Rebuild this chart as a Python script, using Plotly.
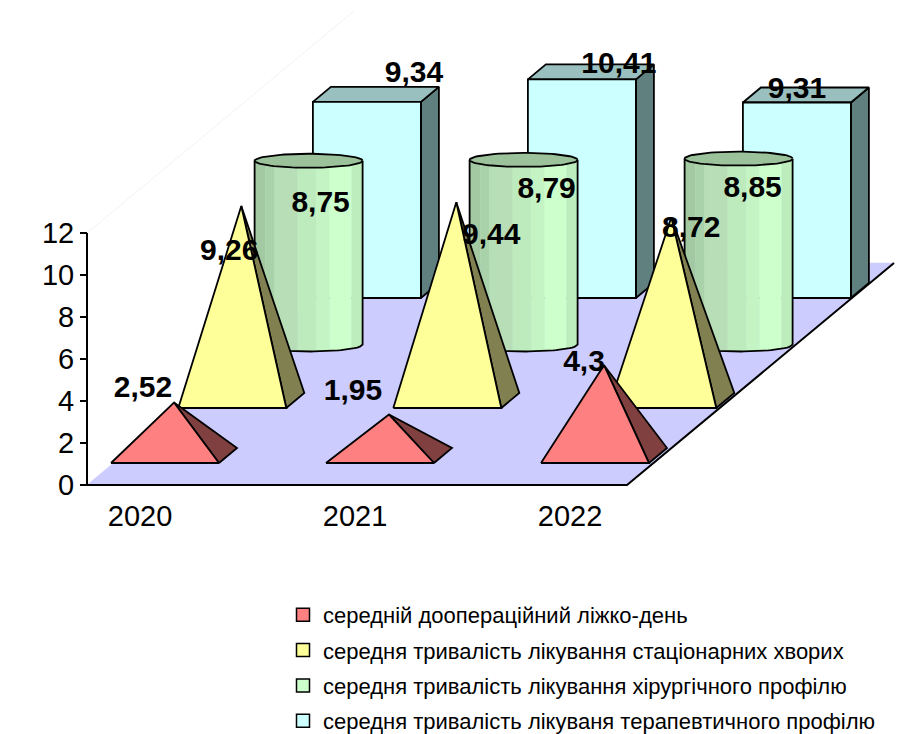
import plotly.graph_objects as go
import math

years = ["2020", "2021", "2022"]
series_names = [
    "середній доопераційний ліжко-день",
    "середня тривалість лікування стаціонарних хворих",
    "середня тривалість лікування хірургічного профілю",
    "середня тривалість лікуваня терапевтичного профілю",
]
preop_days = [2.52, 1.95, 4.3]
inpatient_days = [9.26, 9.44, 8.72]
surgical_days = [8.75, 8.79, 8.85]
therapeutic_days = [9.34, 10.41, 9.31]
y_ticks = [0, 2, 4, 6, 8, 10, 12]

# Oblique projection of the 3-D chart onto the flat plot
W_PX, H_PX = 911, 750
AX_LEFT, AX_ZERO = 87, 485
PX_X, PX_Y = 215.0, 21.0     # pixels per category / per value unit
X0, Y0 = (111 - AX_LEFT) / PX_X, (AX_ZERO - 463) / PX_Y
RX, RY = 67.3 / PX_X, 55 / PX_Y
BW = 108 / PX_X
DX, DY = 18 / PX_X, 15 / PX_Y
FLOOR_W, FLOOR_DX, FLOOR_DY = 540 / PX_X, 267 / PX_X, 222 / PX_Y

fig = go.Figure()


def poly(xs, ys, fill, line="black", lw=1.8):
    fig.add_trace(go.Scatter(
        x=list(xs) + [xs[0]], y=list(ys) + [ys[0]], mode="lines", fill="toself",
        fillcolor=fill, line=dict(color=line if line else fill, width=lw if line else 0.5),
        showlegend=False, hoverinfo="skip"))


def path(xs, ys, color="black", lw=2):
    fig.add_trace(go.Scatter(x=xs, y=ys, mode="lines", line=dict(color=color, width=lw),
                             showlegend=False, hoverinfo="skip"))


def base(c, r):
    return X0 + c + r * RX, Y0 + r * RY


def pyramid(c, r, v, front, side):
    x, y = base(c, r)
    ax, ay = x + (BW + DX) / 2, y + DY / 2 + v
    poly([x + BW, x + BW + DX, ax], [y, y + DY, ay], side)
    poly([x, x + BW, ax], [y, y, ay], front)
    return ax, ay


def box(c, r, v):
    x, y = base(c, r)
    poly([x + BW, x + BW + DX, x + BW + DX, x + BW], [y, y + DY, y + DY + v, y + v], "#608080")
    poly([x, x + BW, x + BW + DX, x + DX], [y + v, y + v, y + DY + v, y + DY + v], "#99BFBF")
    poly([x, x + BW, x + BW, x], [y, y, y + v, y + v], "#CCFFFF")
    return x + BW / 2, y + v


CYL_BANDS = [(0.00, 0.10, "#A3C9A3"), (0.10, 0.185, "#AAD2AA"), (0.185, 0.40, "#B7DEB7"),
             (0.40, 0.57, "#BEEBBE"), (0.57, 0.695, "#C4F3C4"), (0.695, 0.90, "#CCFFCC"),
             (0.90, 1.00, "#BDECBD")]
CYL_B = 7 / PX_Y
CYL_LIFT = 1 / PX_Y


def cylinder(c, r, v):
    x, y = base(c, r)
    cx, cy = x + (BW + DX) / 2 - BW / 2, y + DY / 2 + CYL_LIFT
    elx = lambda t: math.sqrt(max(0.0, 1 - (2 * t - 1) ** 2))
    n = 6
    for t0, t1, col in CYL_BANDS:
        ts = [t0 + (t1 - t0) * i / n for i in range(n + 1)]
        xs = [cx + t * BW for t in ts]
        ys = [cy - CYL_B * elx(t) for t in ts]
        poly(xs + [cx + t1 * BW, cx + t0 * BW], ys + [cy + v, cy + v], col, line=None)
    ts = [i / 40 for i in range(41)]
    xs = [cx] + [cx + t * BW for t in ts] + [cx + BW]
    ys = [cy + v] + [cy - CYL_B * elx(t) for t in ts] + [cy + v]
    path(xs, ys, lw=1.8)
    tops = [i * math.pi / 40 for i in range(81)]
    poly([cx + BW / 2 + BW / 2 * math.cos(a) for a in tops],
         [cy + v + CYL_B * math.sin(a) for a in tops], "#9BC29B")
    return cx + BW / 2, cy + v - CYL_LIFT


# Floor and faint walls
fx = [0, FLOOR_W, FLOOR_W + FLOOR_DX, FLOOR_DX]
fy = [0, 0, FLOOR_DY, FLOOR_DY]
path([0, FLOOR_DX], [12, 12 + FLOOR_DY], color="#F2F2F2", lw=1)
poly(fx, fy, "#CCCCFF", line=None)
path([0, FLOOR_W, FLOOR_W + FLOOR_DX], [0, 0, FLOOR_DY], lw=2)
path([0, 0], [0, 12], lw=2)

label_x, label_y, label_text = [], [], []
LABEL_SHIFT = 2


def label(pos, off, v):
    label_x.append(pos[0] + off[0] / PX_X)
    label_y.append(pos[1] - (off[1] + LABEL_SHIFT) / PX_Y)
    label_text.append(str(v).replace(".", ","))


OFF_BOX = [(47, -29), (37, -16), (0, -14)]
OFF_CYL = [(12, 41), (23, 28), (14, 28)]
OFF_YEL = [(-12, 44), (35, 32), (20, 10)]
OFF_RED = [(-31, -15), (-36, -24.5), (-20, -4)]

for c, v in enumerate(therapeutic_days):
    label(box(c, 3, v), OFF_BOX[c], v)
for c, v in enumerate(surgical_days):
    label(cylinder(c, 2, v), OFF_CYL[c], v)
for c, v in enumerate(inpatient_days):
    label(pyramid(c, 1, v, "#FFFF99", "#808050"), OFF_YEL[c], v)
for c, v in enumerate(preop_days):
    label(pyramid(c, 0, v, "#FF8080", "#804040"), OFF_RED[c], v)

fig.add_trace(go.Scatter(x=label_x, y=label_y, text=label_text, mode="text",
                         textposition="middle center", showlegend=False, hoverinfo="skip",
                         textfont=dict(family="Liberation Sans", size=30, color="black",
                                       weight="bold")))

for name, col in zip(series_names, ["#FF8080", "#FFFF99", "#CCFFCC", "#CCFFFF"]):
    fig.add_trace(go.Scatter(x=[None], y=[None], mode="markers", name=name, legendgroup=name,
                             marker=dict(symbol="square", size=13, color=col,
                                         line=dict(color="black", width=1.5))))

year_pos = [(140 - AX_LEFT + 215 * i) / PX_X for i in range(3)]
fig.update_layout(
    width=W_PX, height=H_PX, autosize=False,
    margin=dict(l=0, r=0, t=0, b=0), paper_bgcolor="white", plot_bgcolor="white",
    font=dict(family="Liberation Sans", color="black"),
    xaxis=dict(range=[-AX_LEFT / PX_X, (W_PX - AX_LEFT) / PX_X], domain=[0, 1], anchor="free",
               position=(H_PX - AX_ZERO) / H_PX, showgrid=False, zeroline=False, showline=False,
               tickmode="array", tickvals=year_pos, ticktext=years, ticks="",
               tickfont=dict(size=29), ticklabelstandoff=11),
    yaxis=dict(range=[(AX_ZERO - H_PX) / PX_Y, AX_ZERO / PX_Y], domain=[0, 1], anchor="free",
               position=AX_LEFT / W_PX, showgrid=False, zeroline=False, showline=False,
               tickmode="array", tickvals=y_ticks, ticks="outside", ticklen=7, tickwidth=2,
               tickcolor="black", tickfont=dict(size=29)),
    legend=dict(x=283 / W_PX, y=(H_PX - 594) / H_PX,
                xanchor="left", yanchor="top", font=dict(size=22), tracegroupgap=3.7,
                bgcolor="rgba(0,0,0,0)", itemclick=False),
)
fig.write_html("out.html", config={"displayModeBar": False},
               post_script="document.body.style.margin='0';document.body.style.overflow='hidden';")
